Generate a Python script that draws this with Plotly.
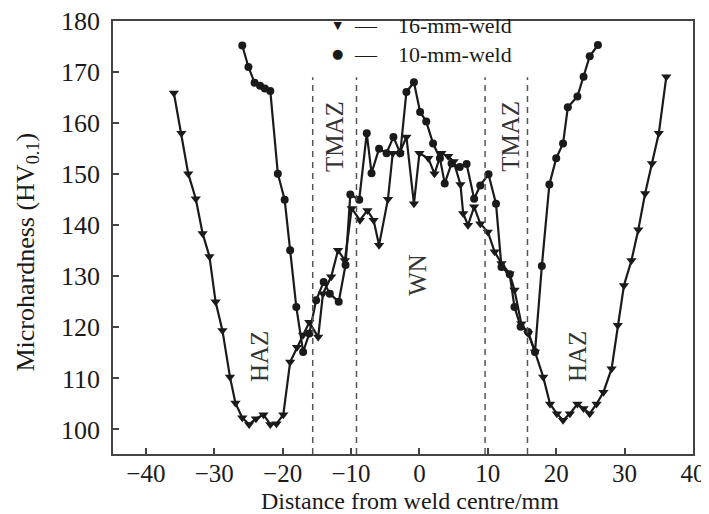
import plotly.graph_objects as go

# 16-mm weld (triangles)
x16 = [-35.9, -34.8, -33.8, -32.7, -31.7, -30.7, -29.8, -28.8, -27.7, -26.9,
       -25.9, -24.9, -23.9, -22.8, -21.8, -20.9, -19.9, -18.9, -17.9, -17.0,
       -16.1, -14.8, -14.1, -12.9, -11.9, -10.9, -9.9, -8.7, -7.6, -6.7,
       -5.9, -4.6, -3.9, -2.9, -1.9, -0.8, 0.0, 1.3, 2.2, 3.2,
       4.2, 5.0, 6.0, 6.4, 7.1, 8.0, 8.9, 10.0, 11.0, 12.0,
       13.2, 13.9, 14.9, 15.9, 16.9, 18.1, 19.1, 20.1, 21.0, 22.0,
       23.1, 24.0, 24.9, 25.9, 26.9, 28.1, 29.0, 29.9, 31.0, 32.0,
       33.0, 34.0, 35.0, 36.1]
hv16 = [165.9, 158.0, 150.1, 145.2, 138.4, 133.9, 125.0, 119.4, 110.3, 105.2,
        102.3, 101.0, 102.1, 102.9, 101.0, 101.1, 102.9, 113.2, 116.1, 118.5,
        121.0, 118.1, 126.6, 129.9, 135.1, 133.1, 143.3, 141.0, 142.9, 141.0,
        136.1, 145.1, 154.1, 154.1, 157.3, 144.2, 154.1, 153.1, 150.1, 154.1,
        153.5, 152.5, 148.0, 142.3, 140.0, 143.6, 140.3, 138.7, 134.8, 132.5,
        130.5, 127.3, 120.7, 118.8, 115.2, 110.3, 105.0, 103.1, 101.8, 103.1,
        105.0, 104.1, 103.1, 105.0, 107.3, 111.9, 120.4, 128.2, 133.1, 139.1,
        146.2, 152.1, 158.0, 169.1]

# 10-mm weld (circles)
x10 = [-25.9, -25.0, -24.1, -23.3, -22.6, -21.8, -20.7, -19.7, -18.9, -18.0,
       -17.0, -16.1, -15.1, -14.0, -13.1, -11.8, -10.8, -10.1, -8.8, -7.7,
       -7.0, -5.9, -4.8, -3.8, -2.8, -1.9, -0.8, 0.1, 1.0, 2.0,
       3.0, 3.7, 4.7, 5.9, 6.9, 8.0, 8.9, 10.1, 11.2, 12.0,
       13.2, 13.9, 14.8, 15.9, 16.9, 17.9, 19.0, 20.0, 21.0, 21.7,
       23.1, 24.0, 24.9, 26.1]
hv10 = [175.2, 171.0, 167.9, 167.3, 166.8, 166.3, 150.1, 145.0, 135.1, 124.0,
        115.2, 118.8, 125.3, 128.9, 126.6, 125.0, 132.2, 146.0, 145.0, 158.0,
        150.2, 155.0, 154.1, 157.3, 154.1, 166.1, 168.0, 162.2, 160.3, 156.0,
        153.1, 148.2, 152.1, 151.4, 152.0, 145.2, 147.8, 150.0, 144.2, 131.8,
        130.4, 124.0, 120.1, 119.1, 115.2, 132.0, 148.0, 153.1, 156.0, 163.1,
        165.2, 169.1, 173.1, 175.3]

# zone boundaries and labels
zone_bounds = [-15.6, -9.2, 9.6, 15.8]
zone_names = ["HAZ", "TMAZ", "WN", "TMAZ", "HAZ"]
zone_x = [-23.3, -12.4, -0.2, 13.3, 23.2]
zone_y = [114.2, 157.4, 130.3, 157.4, 114.2]

x_ticks = [-40, -30, -20, -10, 0, 10, 20, 30, 40]
legend_labels = ["16-mm-weld", "10-mm-weld"]

SERIF = "Liberation Serif"
INK = "#1a1a1a"
AXIS = "#444444"

fig = go.Figure()
fig.add_trace(go.Scatter(
    x=x16, y=hv16, mode="lines+markers", name=legend_labels[0],
    line=dict(color=INK, width=2.2),
    marker=dict(symbol="triangle-down", size=9, color=INK),
    showlegend=False,
))
fig.add_trace(go.Scatter(
    x=x10, y=hv10, mode="lines+markers", name=legend_labels[1],
    line=dict(color=INK, width=2.2),
    marker=dict(symbol="circle", size=8, color=INK),
    showlegend=False,
))

for xb in zone_bounds:
    fig.add_shape(type="line", xref="x", yref="y", x0=xb, x1=xb, y0=95.2, y1=169,
                  line=dict(color="#555555", width=1.5, dash="6px,5px"))

for name, zx, zy in zip(zone_names, zone_x, zone_y):
    fig.add_annotation(x=zx, y=zy, text=name, textangle=-90, showarrow=False,
                       font=dict(family=SERIF, size=25, color="#333333"))

# legend drawn by hand: marker column, dash column, label column
LEG_Y = 0.955
fig.add_annotation(xref="paper", yref="paper", x=0.3874, y=LEG_Y, yanchor="middle",
                   text="<span style='font-size:11px'>▼</span><br><span style='font-size:13px'>●</span>",
                   showarrow=False, font=dict(family="DejaVu Sans", size=22, color=INK))
fig.add_annotation(xref="paper", yref="paper", x=0.4357, y=LEG_Y, yanchor="middle",
                   text="—<br>—", showarrow=False,
                   font=dict(family=SERIF, size=22, color=INK))
fig.add_annotation(xref="paper", yref="paper", x=0.4874, y=LEG_Y, yanchor="middle",
                   xanchor="left", align="left", text="<br>".join(legend_labels),
                   showarrow=False, font=dict(family=SERIF, size=22, color=INK))

# axis titles placed as annotations so they sit where the reference has them
fig.add_annotation(xref="paper", yref="paper", x=0.5116, y=-0.1085, yanchor="middle",
                   text="Distance from weld centre/mm", showarrow=False,
                   font=dict(family=SERIF, size=24, color=INK))
fig.add_annotation(xref="paper", yref="paper", x=-0.149, y=0.4665, xanchor="center",
                   text="Microhardness (HV<sub>0.1</sub>)", textangle=-90, showarrow=False,
                   font=dict(family=SERIF, size=26, color=INK))

# the page body adds an 8px offset, so the figure is 8px smaller and margins shifted
fig.update_layout(
    width=701,
    height=506,
    margin=dict(l=105, r=16, t=13, b=60),
    paper_bgcolor="white",
    plot_bgcolor="white",
    font=dict(family=SERIF, size=25, color=INK),
    xaxis=dict(
        range=[-44.8, 40],
        tickvals=x_ticks,
        automargin=False,
        ticklabeloverflow="allow",
        ticks="inside", ticklen=6, tickwidth=1.5, tickcolor=AXIS,
        showline=True, linecolor=AXIS, linewidth=1.5, mirror=True,
        showgrid=False, zeroline=False,
        tickfont=dict(family=SERIF, size=25, color=INK),
        ticklabelstandoff=-4,
    ),
    yaxis=dict(
        range=[95.2, 180],
        tick0=100, dtick=10,
        automargin=False,
        ticklabeloverflow="allow",
        ticks="inside", ticklen=6, tickwidth=1.5, tickcolor=AXIS,
        showline=True, linecolor=AXIS, linewidth=1.5, mirror=True,
        showgrid=False, zeroline=False,
        tickfont=dict(family=SERIF, size=26, color=INK),
        ticklabelstandoff=6,
    ),
)

fig.write_html("out.html")
